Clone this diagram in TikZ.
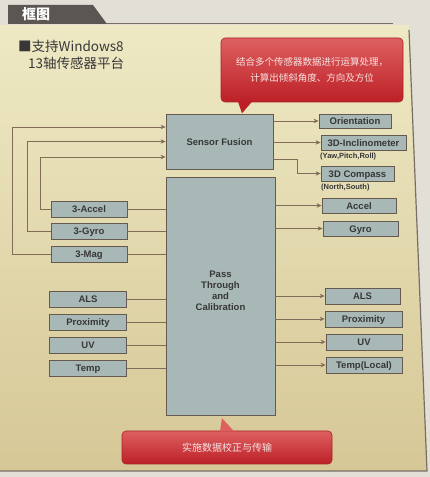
\documentclass[tikz,border=0pt]{standalone}
\usepackage{fontspec}
\setmainfont{Liberation Sans}
\newfontfamily\cjkfont{Noto Sans CJK SC}
\usetikzlibrary{arrows.meta}

\begin{document}
\begin{tikzpicture}[x=1pt,y=1pt,
  blk/.style={draw=boxEdge,fill=boxFill,line width=0.8pt,inner sep=0pt,text=boxText,text height=8pt,text depth=0pt,font=\bfseries\fontsize{9.5}{11}\selectfont},
  link/.style={draw=linkColor,line width=0.8pt},
  arr/.style={-{Stealth[length=5pt,width=4.5pt]}},
  note/.style={text=boxText,font=\bfseries\fontsize{7.5}{9}\selectfont,inner sep=0pt,anchor=west},
  callout/.style={rounded corners=4pt,top color=noteTop,bottom color=noteBottom,draw=noteEdge,line width=0.6pt,text=noteText,inner sep=0pt,align=center,font=\cjkfont\fontsize{9.5}{16}\selectfont}]
\definecolor{paperColor}{RGB}{226,223,214}
\definecolor{panelTop}{RGB}{238,233,196}
\definecolor{panelBottom}{RGB}{214,199,150}
\definecolor{rimColor}{RGB}{120,110,100}
\definecolor{tabColor}{RGB}{92,86,82}
\definecolor{boxFill}{RGB}{168,184,182}
\definecolor{boxEdge}{RGB}{100,90,80}
\definecolor{boxText}{RGB}{55,55,55}
\definecolor{linkColor}{RGB}{128,108,88}
\definecolor{noteTop}{RGB}{222,96,96}
\definecolor{noteBottom}{RGB}{188,32,38}
\definecolor{noteEdge}{RGB}{170,35,40}
\definecolor{noteText}{RGB}{248,228,228}
\path[use as bounding box,fill=paperColor] (0,0) rectangle (430,477);

% page frame
\path[top color=panelTop,bottom color=panelBottom] (0,452) -- (409,452) -- (427,6) -- (0,6) -- cycle;
\path[draw=rimColor,line width=1.2pt] (409,447) -- (427,6) -- (0,6);
\path[fill=tabColor] (8,472) -- (93,472) -- (107,453) -- (8,453) -- cycle;
\path[draw=rimColor,line width=1.5pt] (106,453.5) -- (393,453.5);
\node[text=white,inner sep=0pt,font=\cjkfont\bfseries\fontsize{14}{16}\selectfont] (tabtitle) at (36,463) {框图};

% title
\node[text=boxText,inner sep=0pt,anchor=west,font=\cjkfont\fontsize{13.5}{16}\selectfont] (title1) at (18,431) {■支持Windows8};
\node[text=boxText,inner sep=0pt,anchor=west,font=\cjkfont\fontsize{13.5}{16}\selectfont] (title2) at (28,414) {13轴传感器平台};

% blocks
\node[blk,minimum width=107pt,minimum height=55pt] (fusion) at (219.5,335.5) {Sensor Fusion};
\node[blk,minimum width=109pt,minimum height=238pt] (pass) at (220.5,181) {};
\node[text=boxText,inner sep=0pt,align=center,font=\bfseries\fontsize{9.5}{11}\selectfont] (passtext) at (220.5,186) {Pass\\Through\\and\\Calibration};

% inputs
\node[blk,minimum width=76pt,minimum height=16pt] (accel) at (89,268) {3-Accel};
\node[blk,minimum width=76pt,minimum height=16pt] (gyro) at (89,246) {3-Gyro};
\node[blk,minimum width=76pt,minimum height=16pt] (mag) at (89,223) {3-Mag};
\node[blk,minimum width=77pt,minimum height=16pt] (als) at (88,178) {ALS};
\node[blk,minimum width=77pt,minimum height=16pt] (prox) at (88,155) {Proximity};
\node[blk,minimum width=77pt,minimum height=16pt] (uv) at (88,132) {UV};
\node[blk,minimum width=77pt,minimum height=16pt] (temp) at (88,109) {Temp};

% outputs
\node[blk,minimum width=72pt,minimum height=14pt] (orient) at (355,356) {Orientation};
\node[blk,minimum width=85pt,minimum height=15pt] (incl) at (363.5,334.5) {3D-Inclinometer};
\node[note] (inclnote) at (320,320) {(Yaw,Pitch,Roll)};
\node[blk,minimum width=73pt,minimum height=15pt] (compass) at (357.5,303.5) {3D Compass};
\node[note] (compassnote) at (321,289) {(North,South)};
\node[blk,minimum width=74pt,minimum height=15pt] (accelout) at (359,271.5) {Accel};
\node[blk,minimum width=75pt,minimum height=15pt] (gyroout) at (360.5,248.5) {Gyro};
\node[blk,minimum width=75pt,minimum height=16pt] (alsout) at (362.5,181) {ALS};
\node[blk,minimum width=77pt,minimum height=16pt] (proxout) at (363.5,158) {Proximity};
\node[blk,minimum width=76pt,minimum height=16pt] (uvout) at (364,135) {UV};
\node[blk,minimum width=76pt,minimum height=16pt] (tempout) at (364,112) {Temp(Local)};

% feedback into fusion
\path[link,arr] (accel.west) -- ++(-10,0) |- ([yshift=-15.5pt]fusion.west);
\path[link,arr] (gyro.west) -- ++(-23,0) |- (fusion.west);
\path[link,arr] (mag.west) -- ++(-38,0) |- ([yshift=14.5pt]fusion.west);

% into pass through
\path[link] (accel.east) -- (accel -| pass.west);
\path[link] (gyro.east) -- (gyro -| pass.west);
\path[link] (mag.east) -- (mag -| pass.west);
\path[link] (als.east) -- (als -| pass.west);
\path[link] (prox.east) -- (prox -| pass.west);
\path[link] (uv.east) -- (uv -| pass.west);
\path[link] (temp.east) -- (temp -| pass.west);

% out of fusion
\path[link,arr] (fusion.east |- orient) -- (orient);
\path[link,arr] (fusion.east |- incl) -- (incl);
\path[link,arr] ([yshift=-17.5pt]fusion.east) -- ++(24,0) |- (compass);

% out of pass through
\path[link,arr] (pass.east |- accelout) -- (accelout);
\path[link,arr] (pass.east |- gyroout) -- (gyroout);
\path[link,arr] (pass.east |- alsout) -- (alsout);
\path[link,arr] (pass.east |- proxout) -- (proxout);
\path[link,arr] (pass.east |- uvout) -- (uvout);
\path[link,arr] (pass.east |- tempout) -- (tempout);

% callouts
\node[callout,minimum width=182pt,minimum height=64pt] (fusionnote) at (312,407) {结合多个传感器数据进行运算处理，\\计算出倾斜角度、方向及方位};
\path[fill=noteBottom] ([xshift=-74pt,yshift=0.6pt]fusionnote.south) -- ([xshift=-60pt,yshift=0.6pt]fusionnote.south) -- ([xshift=-70pt,yshift=-11pt]fusionnote.south) -- cycle;
\node[callout,minimum width=210pt,minimum height=33pt,font=\cjkfont\fontsize{10}{12}\selectfont] (passnote) at (227,29.5) {实施数据校正与传输};
\path[fill=noteTop] ([xshift=-7pt,yshift=-0.6pt]passnote.north) -- ([xshift=7pt,yshift=-0.6pt]passnote.north) -- ([xshift=-5pt,yshift=12.5pt]passnote.north) -- cycle;
\end{tikzpicture}
\end{document}
